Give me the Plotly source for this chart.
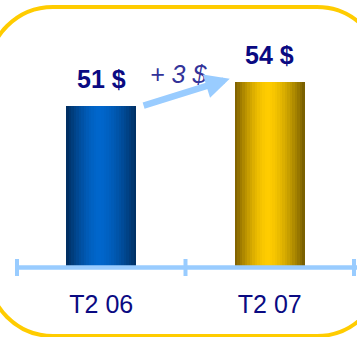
import plotly.graph_objects as go

# ---- data ----
categories = ["T2 06", "T2 07"]
values = [51, 54]
unit = "$"

# ---- style ----
W_FIG, H_FIG = 357, 337
L, T, B, R_M = 17, 10, 69, 3
PW, PH = W_FIG - L - R_M, H_FIG - T - B
Y0 = 30.75
Y1 = Y0 + PH / 8.0
BW = 0.415
NS = 28
FONT = "Liberation Sans, Arial, sans-serif"
NAVY = "#0A0A82"
LIGHT = "#99CCFF"
GOLD_BORDER = "#FFCC00"

edge_cols = [((0, 44, 92), (0, 102, 204), (0, 46, 96)),
             ((122, 92, 0), (255, 204, 0), (115, 90, 0))]


def shade(i, t):
    left, mid, right = edge_cols[i]
    c = 0.47
    if t <= c:
        d = (c - t) / c
        edge = left
    else:
        d = (t - c) / (1 - c)
        edge = right
    w = 1 - d ** 1.6
    return "rgb(%d,%d,%d)" % tuple(round(edge[k] + (mid[k] - edge[k]) * w) for k in range(3))


def px(x):
    return (x - L) / PW


def py(y):
    return (T + PH - y) / PH


fig = go.Figure()
step = BW / NS
for s in range(NS):
    t = (s + 0.5) / NS
    fig.add_trace(go.Bar(
        x=categories, y=values,
        width=step * (1.4 if s < NS - 1 else 1.0),
        offset=-BW / 2 + s * step,
        marker=dict(color=[shade(i, t) for i in range(len(categories))], line=dict(width=0)),
        hoverinfo="skip", showlegend=False,
    ))

# rounded yellow frame
x0, x1, y0, y1, RR = -12, 382, 7, 336, 65
k = 0.5523 * RR


def P(x, y):
    return "%.5f,%.5f" % (px(x), py(y))


path = ("M" + P(x0 + RR, y0) + " L" + P(x1 - RR, y0) +
        " C" + P(x1 - RR + k, y0) + " " + P(x1, y0 + RR - k) + " " + P(x1, y0 + RR) +
        " L" + P(x1, y1 - RR) +
        " C" + P(x1, y1 - RR + k) + " " + P(x1 - RR + k, y1) + " " + P(x1 - RR, y1) +
        " L" + P(x0 + RR, y1) +
        " C" + P(x0 + RR - k, y1) + " " + P(x0, y1 - RR + k) + " " + P(x0, y1 - RR) +
        " L" + P(x0, y0 + RR) +
        " C" + P(x0, y0 + RR - k) + " " + P(x0 + RR - k, y0) + " " + P(x0 + RR, y0) + " Z")
shapes = [dict(type="path", xref="paper", yref="paper", path=path,
               line=dict(color=GOLD_BORDER, width=4), layer="below")]

# axis line and ticks
shapes.append(dict(type="line", xref="paper", yref="paper", x0=0, x1=1 + 4 / PW,
                   y0=py(267.5), y1=py(267.5), line=dict(color=LIGHT, width=4.5)))
n = len(categories)
for i in range(n + 1):
    xb = i / n
    shapes.append(dict(type="line", xref="paper", yref="paper", x0=xb, x1=xb,
                       y0=py(259), y1=py(276), line=dict(color=LIGHT, width=4)))

annotations = []
for c, v in zip(categories, values):
    annotations.append(dict(x=c, y=v, xref="x", yref="y", text="<b>%d %s</b>" % (v, unit),
                            showarrow=False, yanchor="middle", yshift=27,
                            font=dict(family=FONT, size=25, color=NAVY)))

diff = values[1] - values[0]
annotations.append(dict(x=0.5, y=values[1] + 1, xref="x", yref="y", xshift=-7,
                        text="<i>+ %d %s</i>" % (diff, unit), showarrow=False,
                        font=dict(family=FONT, size=25, color="#333399")))
annotations.append(dict(x=1 - BW / 2 - 0.03, y=values[1] + 0.4, xref="x", yref="y",
                        ax=BW / 2 + 0.035, ay=values[0], axref="x", ayref="y",
                        text="", showarrow=True, arrowhead=2, arrowsize=0.75,
                        arrowwidth=6.5, arrowcolor=LIGHT, standoff=0))

fig.update_layout(
    width=W_FIG, height=H_FIG,
    margin=dict(l=L, r=R_M, t=T, b=B, pad=0),
    paper_bgcolor="white", plot_bgcolor="white",
    barmode="overlay", bargap=0,
    shapes=shapes, annotations=annotations,
    xaxis=dict(type="category", range=[-0.5, n - 0.5], showgrid=False, zeroline=False,
               showline=False, ticks="", ticklabelstandoff=19,
               tickfont=dict(family=FONT, size=25, color=NAVY), fixedrange=True),
    yaxis=dict(range=[Y0, Y1], visible=False, fixedrange=True),
    showlegend=False,
)

fig.write_html("out.html")
